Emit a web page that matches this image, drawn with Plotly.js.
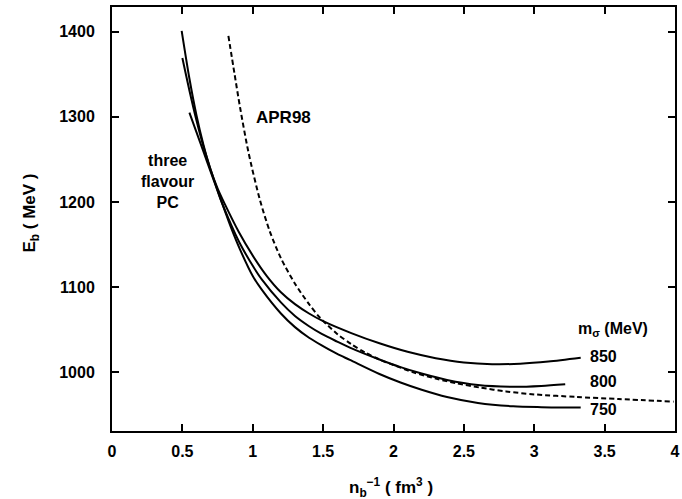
<!DOCTYPE html>
<html>
<head>
<meta charset="utf-8">
<script src="https://cdn.plot.ly/plotly-3.0.1.min.js"></script>
<style>html,body{margin:0;padding:0;background:#fff;}#plot{width:682px;height:499px;}</style>
</head>
<body>
<div id="plot"></div>
<script>
// m_sigma = 850 MeV
const x850 = [0.495, 0.55, 0.6, 0.65, 0.7, 0.75, 0.8, 0.9, 1.0, 1.1, 1.2, 1.3, 1.4, 1.5, 1.7, 1.9, 2.1, 2.3, 2.5, 2.7, 2.9, 3.1, 3.33];
const y850 = [1401, 1345, 1302, 1267, 1238, 1216, 1198, 1165, 1137, 1113, 1094, 1080, 1069, 1060, 1046, 1034, 1024, 1016.5, 1011.5, 1009.5, 1010, 1012.5, 1017];
// m_sigma = 800 MeV
const x800 = [0.50, 0.55, 0.6, 0.65, 0.7, 0.77, 0.85, 0.91, 1.0, 1.064, 1.2, 1.3, 1.4, 1.49, 1.6, 1.69, 1.9, 2.05, 2.2, 2.38, 2.6, 2.85, 3.05, 3.22];
const y800 = [1369, 1331, 1296, 1265, 1238.5, 1204, 1172, 1151, 1125, 1109, 1082, 1066, 1054, 1045, 1036, 1029, 1015, 1006, 998.5, 991, 985, 983, 984, 986];
// m_sigma = 750 MeV
const x750 = [0.55, 0.6, 0.65, 0.7, 0.77, 0.85, 0.91, 1.0, 1.064, 1.2, 1.3, 1.4, 1.49, 1.6, 1.69, 1.9, 2.05, 2.2, 2.38, 2.6, 2.85, 3.05, 3.33];
const y750 = [1305, 1282, 1259, 1236, 1204, 1168, 1144, 1113, 1097, 1069, 1053, 1040.5, 1031.5, 1021.5, 1014.5, 998, 988, 979.5, 971, 964, 960, 959, 958.5];
// APR98
const xAPR = [0.827, 0.87, 0.91, 0.97, 1.05, 1.12, 1.2, 1.3, 1.4, 1.478, 1.6, 1.7, 1.8, 1.9, 2.0, 2.14, 2.3, 2.45, 2.615, 2.8, 3.0, 3.3, 3.6, 3.99];
const yAPR = [1395, 1351, 1311, 1258, 1203, 1166, 1134, 1104, 1080, 1064, 1045, 1033, 1023, 1015, 1008.5, 1000, 992.5, 987, 982, 977.5, 974, 971, 968.5, 965.5];

const xTicks = [0, 0.5, 1, 1.5, 2, 2.5, 3, 3.5, 4];
const yTicks = [1000, 1100, 1200, 1300, 1400];
const massLabels = ['850', '800', '750'];

const F = 'Liberation Sans, Arial, Helvetica, sans-serif';
const solid = {color: '#000', width: 2, shape: 'spline', smoothing: 0.8};

const traces = [
  {x: x850, y: y850, mode: 'lines', line: solid, name: '850'},
  {x: x800, y: y800, mode: 'lines', line: solid, name: '800'},
  {x: x750, y: y750, mode: 'lines', line: solid, name: '750'},
  {x: xAPR, y: yAPR, mode: 'lines', line: {color: '#000', width: 2, dash: '5px,3px', shape: 'spline', smoothing: 0.8}, name: 'APR98'}
];

const tf = {family: F, size: 16, color: '#000', weight: 'bold'};

const axisCommon = {
  showline: true, linewidth: 2, linecolor: '#000', mirror: 'ticks',
  ticks: 'inside', ticklen: 7, tickwidth: 2, tickcolor: '#000',
  showgrid: false, zeroline: false,
  tickfont: tf
};

const layout = {
  width: 682, height: 499,
  margin: {l: 112, r: 7, t: 7, b: 68},
  paper_bgcolor: '#fff', plot_bgcolor: '#fff',
  showlegend: false,
  font: {family: F, color: '#000'},
  xaxis: Object.assign({}, axisCommon, {
    range: [0, 4], tickvals: xTicks, ticktext: xTicks.map(String), ticklabelstandoff: 5
  }),
  yaxis: Object.assign({}, axisCommon, {
    range: [931, 1429], tickvals: yTicks, ticktext: yTicks.map(String), ticklabelstandoff: 12
  }),
  annotations: [
    {x: 0.4956, y: -0.134, xref: 'paper', yref: 'paper', xanchor: 'center', yanchor: 'middle',
     text: 'n<sub>b</sub><sup>−1</sup> ( fm<sup>3</sup> )', showarrow: false, font: {family: F, size: 17, color: '#000', weight: 'bold'}},
    {x: -0.144, y: 0.515, xref: 'paper', yref: 'paper', xanchor: 'center', yanchor: 'middle', textangle: -90,
     text: 'E<sub>b</sub> ( MeV )', showarrow: false, font: {family: F, size: 17, color: '#000', weight: 'bold'}},
    {x: 1.215, y: 1299.5, xref: 'x', yref: 'y', text: 'APR98', showarrow: false, font: {family: F, size: 17, color: '#000', weight: 'bold'}},
    {x: 0.394, y: 1224, xref: 'x', yref: 'y', text: 'three<br>flavour<br>PC', showarrow: false, align: 'center', font: tf},
    {x: 3.557, y: 1050, xref: 'x', yref: 'y', text: 'm<sub>σ</sub> (MeV)', showarrow: false, font: tf},
    {x: 3.49, y: 1018.4, xref: 'x', yref: 'y', text: massLabels[0], showarrow: false, font: tf},
    {x: 3.49, y: 989, xref: 'x', yref: 'y', text: massLabels[1], showarrow: false, font: tf},
    {x: 3.49, y: 956.5, xref: 'x', yref: 'y', text: massLabels[2], showarrow: false, font: tf}
  ]
};

Plotly.newPlot('plot', traces, layout, {staticPlot: true, displayModeBar: false});
</script>
</body>
</html>
